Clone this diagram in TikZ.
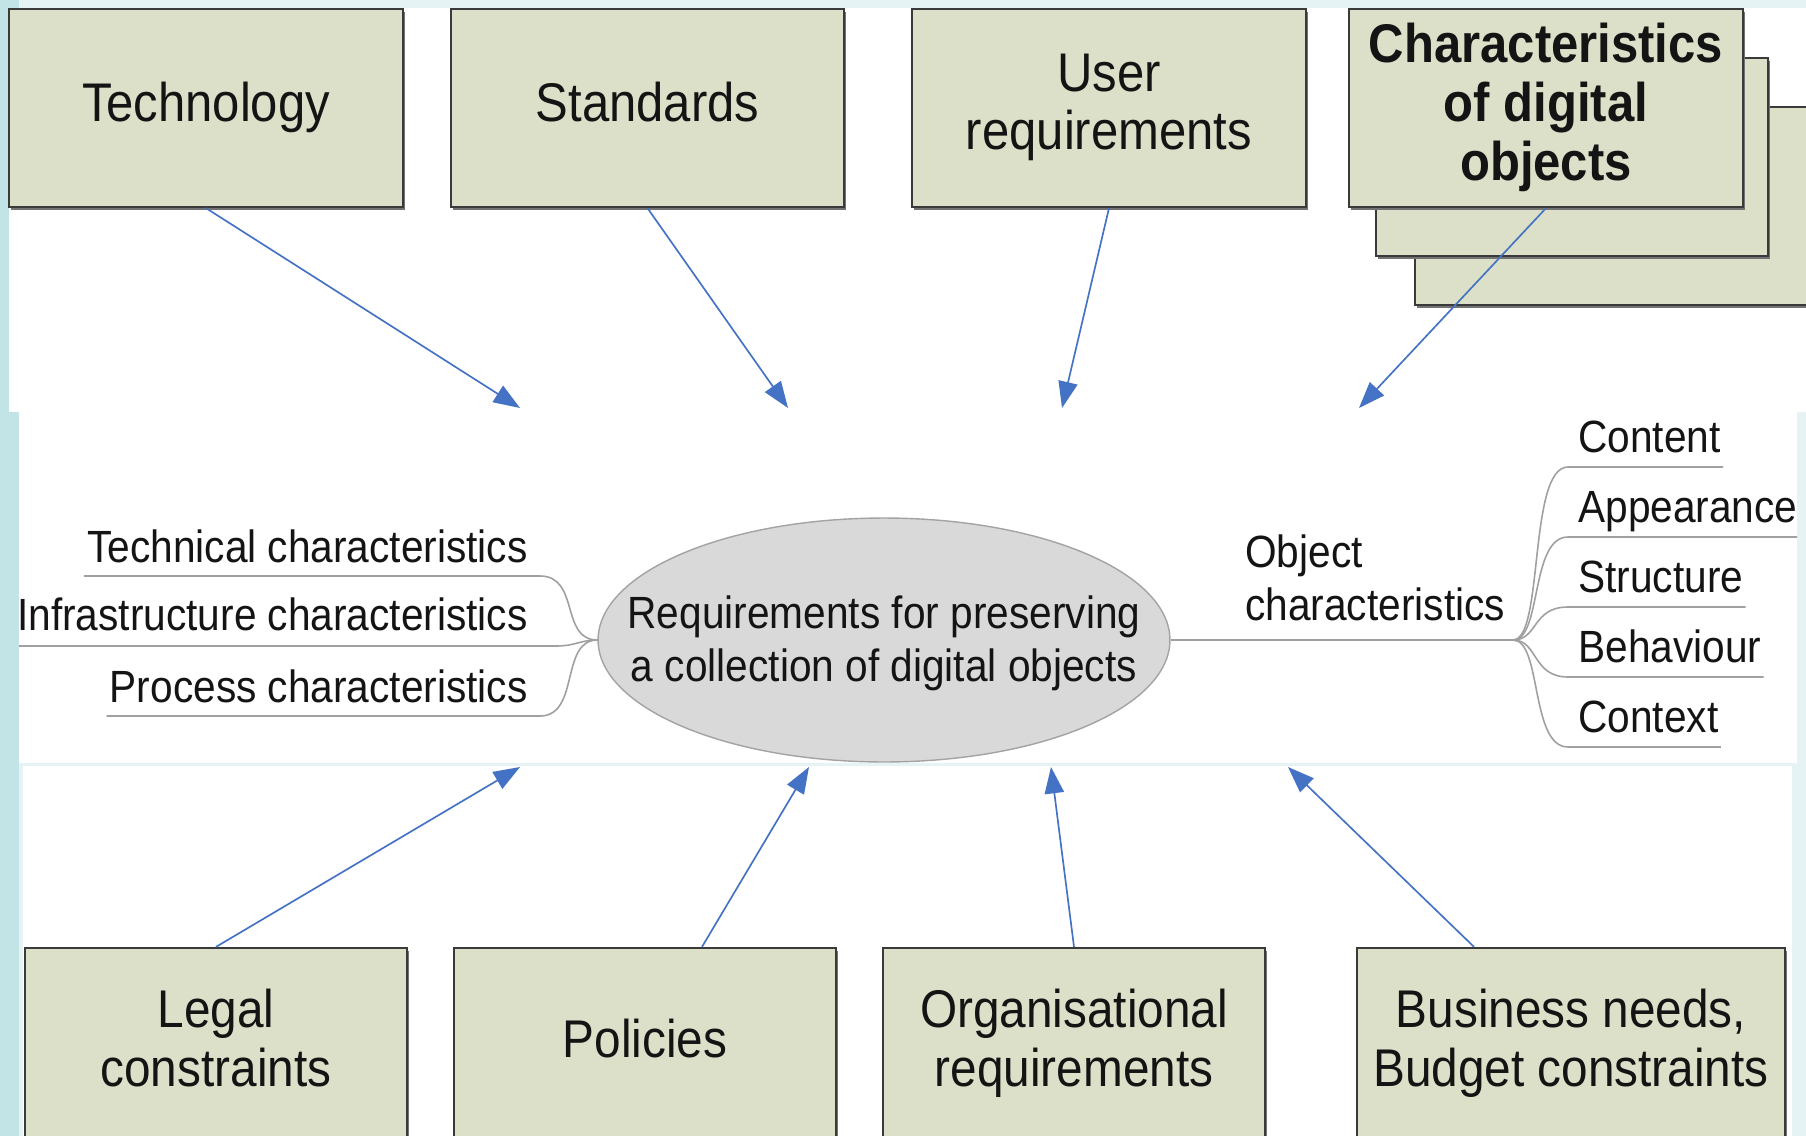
\documentclass[tikz,border=0pt]{standalone}
\usepackage{fontspec}
\setmainfont{Liberation Sans}[FakeStretch=0.9]
\usetikzlibrary{arrows.meta,calc,shapes.geometric}

\definecolor{boxfill}{HTML}{DCE0C9}
\definecolor{boxline}{HTML}{3A3A3A}
\definecolor{flowblue}{HTML}{4472C4}
\definecolor{edgecyan}{HTML}{C3E4E7}
\definecolor{edgelight}{HTML}{E6F3F5}
\definecolor{coregray}{HTML}{D9D9D9}
\definecolor{coreline}{HTML}{A3A3A3}
\definecolor{branchgray}{HTML}{A0A0A0}
\definecolor{ink}{HTML}{141414}

\newcommand\bxfont{\fontsize{31}{33.4}\selectfont}
\newcommand\lowfont{\fontsize{30.2}{33.4}\selectfont}
\newcommand\lblfont{\fontsize{25.7}{30}\selectfont}
% fixed-height strut so every box label sits at the same level
\newcommand\bxstrut{\rule[-7pt]{0pt}{24pt}}

\begin{document}
\begin{tikzpicture}[x=0.02cm,y=-0.02cm,
  box/.style={draw=boxline, fill=boxfill, line width=1.3pt, inner sep=0pt,
    align=center, font=\bxfont, text=ink,
    execute at begin node=\bxstrut, execute at end node=\bxstrut,
    preaction={fill=black!55, transform canvas={shift={(1.2pt,-1.6pt)}}}},
  topbox/.style={box, minimum height=3.96cm},
  lowbox/.style={box, font=\lowfont, minimum height=3.84cm},
  flow/.style={draw=flowblue, line width=0.95pt, -{Triangle[length=15pt,width=11pt]}},
  branch/.style={draw=branchgray, line width=0.9pt},
  lbl/.style={inner sep=0pt, font=\lblfont, text=ink},
  core/.style={ellipse, draw=coreline, fill=coregray, line width=0.8pt, inner sep=0pt,
    minimum width=11.44cm, minimum height=4.88cm}
]
\useasboundingbox (0,0) rectangle (1806,1136);
\clip (0,0) rectangle (1806,1136);

% backdrop and the three white panels
\fill[edgelight] (0,0) rectangle (1806,1136);
\fill[edgecyan] (0,0) rectangle (19,1136);
\fill[white] (9,8) rectangle (1806,412);
\fill[white] (19,412) rectangle (1797,763);
\fill[white] (23,766) rectangle (1792,1136);

% influences above
\node[topbox, minimum width=8cm, execute at begin node={}, execute at end node={}] (stack3) at (1615,206) {};
\node[topbox, minimum width=7.84cm, execute at begin node={}, execute at end node={}] (stack2) at (1572,157) {};
\node[topbox, minimum width=7.88cm, font=\bxfont\bfseries] (chr) at (1546,108)
  {Characteristics\\of digital\\objects};
\node[topbox, minimum width=7.88cm] (tech) at (206,108) {Technology};
\node[topbox, minimum width=7.86cm] (std)  at (647.5,108) {Standards};
\node[topbox, minimum width=7.88cm] (usr)  at (1109,108) {User\\requirements};

% influences below
\node[lowbox, minimum width=7.64cm] (legal) at (216,1044) {Legal\\constraints};
\node[lowbox, minimum width=7.64cm] (pol)   at (645,1044) {Policies};
\node[lowbox, minimum width=7.64cm] (org)   at (1074,1044) {Organisational\\requirements};
\node[lowbox, minimum width=8.56cm] (bus)   at (1571,1044) {Business needs,\\Budget constraints};

% arrow ends at the edges of the central panel
\coordinate (inTech) at (520,408);
\coordinate (inStd)  at (788,408);
\coordinate (inUsr)  at (1062,408);
\coordinate (inChr)  at (1359,408);
\coordinate (inLeg)  at (520,767);
\coordinate (inPol)  at (809,767);
\coordinate (inOrg)  at (1051,767);
\coordinate (inBus)  at (1288,767);

\draw[flow] (tech.south) -- (inTech);
\draw[flow] (std.south) -- (inStd);
\draw[flow] (usr.south) -- (inUsr);
\draw[flow] (chr.south) -- (inChr);
\draw[flow] (legal.north) -- (inLeg);
\draw[flow] ($(pol.north)+(57,0)$) -- (inPol);
\draw[flow] (org.north) -- (inOrg);
\draw[flow] ($(bus.north)+(-97,0)$) -- (inBus);

% central mind map
\node[core] (core) at (884,640) {};
\node[lbl, align=center] (coretext) at (884,643)
  {Requirements for preserving\\a collection of digital objects};

\node[lbl, anchor=base east] (lt) at (528,562) {Technical characteristics};
\node[lbl, anchor=base east] (li) at (528,630) {Infrastructure characteristics};
\node[lbl, anchor=base east] (lp) at (528,702) {Process characteristics};

\draw[branch] ($(lt.base west)+(-3,14)$) -- (540,576)
  .. controls (580,576) and (560,640) .. (core.west);
\draw[branch] (19,646) -- (556,646)
  .. controls (576,646) and (580,640) .. (core.west);
\draw[branch] ($(lp.base west)+(-3,14)$) -- (540,716)
  .. controls (580,716) and (560,640) .. (core.west);

\node[lbl, anchor=base west] (oc1) at (1245,567) {Object};
\node[lbl, anchor=base west] (oc2) at (1245,620) {characteristics};
\coordinate (hub) at (1513,640);
\draw[branch] (core.east) -- (hub);

\node[lbl, anchor=base west] (rc) at (1578,452) {Content};
\node[lbl, anchor=base west] (ra) at (1578,522) {Appearance};
\node[lbl, anchor=base west] (rs) at (1578,592) {Structure};
\node[lbl, anchor=base west] (rb) at (1578,662) {Behaviour};
\node[lbl, anchor=base west] (rx) at (1578,732) {Context};

\draw[branch] (hub) .. controls (1544,640) and (1528,467) .. (1568,467)
  -- ($(rc.base east)+(2,15)$);
\draw[branch] (hub) .. controls (1542,640) and (1530,537) .. (1568,537)
  -- (1797,537);
\draw[branch] (hub) .. controls (1538,640) and (1532,607) .. (1568,607)
  -- ($(rs.base east)+(2,15)$);
\draw[branch] (hub) .. controls (1538,640) and (1532,677) .. (1568,677)
  -- ($(rb.base east)+(2,15)$);
\draw[branch] (hub) .. controls (1542,640) and (1530,747) .. (1568,747)
  -- ($(rx.base east)+(2,15)$);
\end{tikzpicture}
\end{document}
